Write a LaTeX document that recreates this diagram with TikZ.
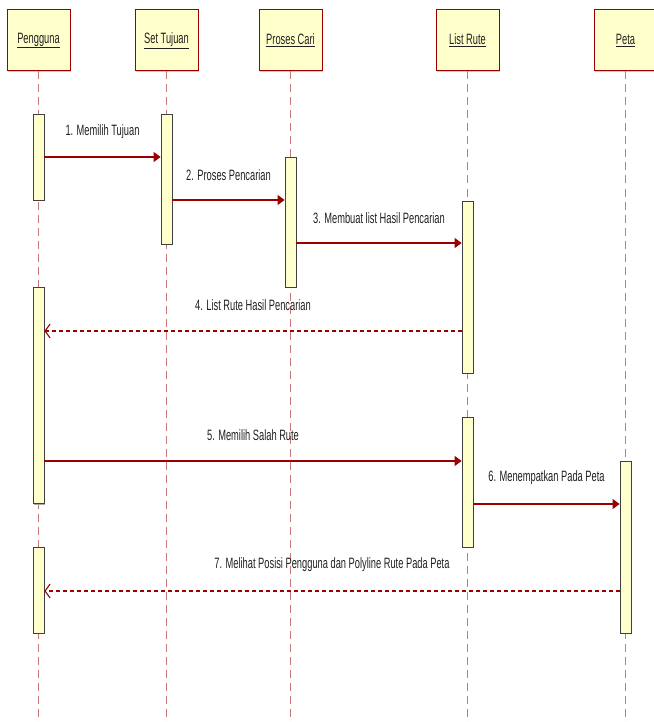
\documentclass[tikz,border=0pt]{standalone}
\usepackage{fontspec}
\setmainfont[FakeStretch=0.62]{Liberation Sans}
\usetikzlibrary{arrows.meta,shadows}
\definecolor{hdrfill}{HTML}{FFFFCC}
\definecolor{hdrline}{HTML}{990000}
\definecolor{hdrshadow}{HTML}{E6C2A6}
\definecolor{actline}{HTML}{404040}
\definecolor{actshadow}{HTML}{A8A8A8}
\definecolor{lifecol}{HTML}{C87878}
\definecolor{msgcol}{HTML}{990000}
\definecolor{txt}{HTML}{202020}
\begin{document}
\begin{tikzpicture}[x=1pt,y=-1pt,
  hdr/.style={draw=hdrline, line width=1pt, fill=hdrfill, minimum width=63pt, minimum height=61pt, inner sep=0pt,
    font=\fontsize{15}{17}\selectfont, text=txt,
    drop shadow={shadow xshift=1.2pt, shadow yshift=-1.2pt, fill=hdrshadow, opacity=1}},
  act/.style={draw=actline, line width=0.8pt, fill=hdrfill, minimum width=11pt, inner sep=0pt,
    drop shadow={shadow xshift=1.2pt, shadow yshift=-1pt, fill=actshadow, opacity=1}},
  life/.style={draw=lifecol, line width=1pt, dash pattern=on 8pt off 5pt},
  msg/.style={color=msgcol, line width=1.1pt, -{Triangle[length=7pt,width=10pt]}},
  ret/.style={color=msgcol, line width=1.1pt, dash pattern=on 4pt off 3pt, -{Straight Barb[length=5pt,width=14pt]}},
  lbl/.style={font=\fontsize{15}{17}\selectfont, text=txt, inner sep=0pt}]
\useasboundingbox (0,0) rectangle (653,722);

% header boxes
\node[hdr] (h1) at (38.5,40.5) {\underline{Pengguna}};
\node[hdr] (h2) at (166.5,40.5) {\underline{Set Tujuan}};
\node[hdr] (h3) at (290.5,40.5) {\underline{Proses Cari}};
\node[hdr] (h4) at (467.5,40.5) {\underline{List Rute}};
\node[hdr] (h5) at (625.5,40.5) {\underline{Peta}};

% lifeline ends
\coordinate (e1) at (38.5,722);
\coordinate (e2) at (166.5,722);
\coordinate (e3) at (290.5,722);
\coordinate (e4) at (467.5,722);
\coordinate (e5) at (625.5,722);
\draw[life] (h1.south) -- (e1);
\draw[life] (h2.south) -- (e2);
\draw[life] (h3.south) -- (e3);
\draw[life] (h4.south) -- (e4);
\draw[life] (h5.south) -- (e5);

% activation boxes
\node[act, minimum height=86pt]  (p1) at (38.5,157) {};
\node[act, minimum height=130pt] (s1) at (166.5,179) {};
\node[act, minimum height=130pt] (c1) at (290.5,222) {};
\node[act, minimum height=172pt] (l1) at (467.5,287) {};
\node[act, minimum height=216pt] (p2) at (38.5,395.5) {};
\node[act, minimum height=130pt] (l2) at (467.5,482) {};
\node[act, minimum height=172pt] (t1) at (625.5,547) {};
\node[act, minimum height=86pt]  (p3) at (38.5,590) {};

% messages
\draw[msg] (p1.east |- 0,157) -- node[lbl, yshift=25pt] {1. Memilih Tujuan} (s1.west |- 0,157);
\draw[msg] (s1.east |- 0,200) -- node[lbl, yshift=25pt] {2. Proses Pencarian} (c1.west |- 0,200);
\draw[msg] (c1.east |- 0,243) -- node[lbl, yshift=25pt] {3. Membuat list Hasil Pencarian} (l1.west |- 0,243);
\draw[ret] (l1.west |- 0,331) -- node[lbl, yshift=26pt] {4. List Rute Hasil Pencarian} (p2.east |- 0,331);
\draw[msg] (p2.east |- 0,461) -- node[lbl, yshift=26pt] {5. Memilih Salah Rute} (l2.west |- 0,461);
\draw[msg] (l2.east |- 0,504) -- node[lbl, yshift=26pt] {6. Menempatkan Pada Peta} (t1.west |- 0,504);
\draw[ret] (t1.west |- 0,591) -- node[lbl, yshift=26pt] {7. Melihat Posisi Pengguna dan Polyline Rute Pada Peta} (p3.east |- 0,591);
\end{tikzpicture}
\end{document}
